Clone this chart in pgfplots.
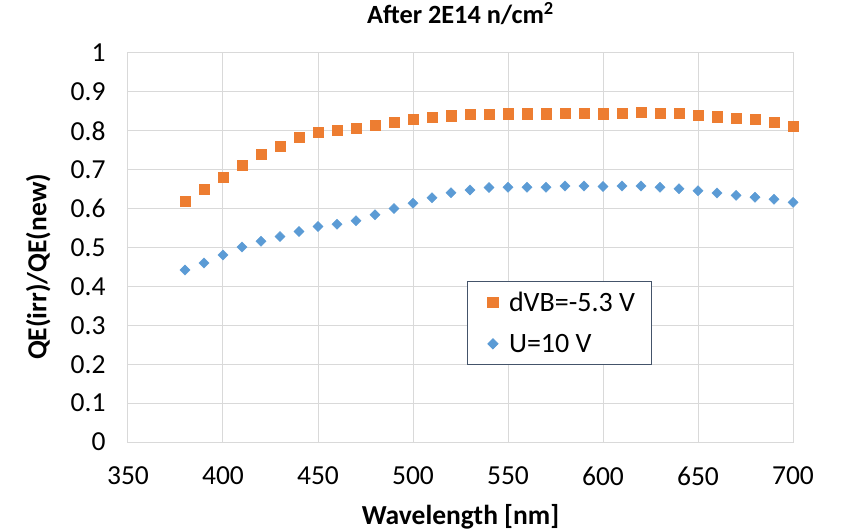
\documentclass[border=0pt]{standalone}
\usepackage{fontspec}
\setmainfont{Carlito}
\usepackage{pgfplots}
\pgfplotsset{compat=1.18}

\definecolor{xlorange}{HTML}{ED7D31}
\definecolor{xlblue}{HTML}{5B9BD5}
\definecolor{gridgray}{HTML}{D9D9D9}
\definecolor{legframe}{HTML}{44546A}

% dVB = -5.3 V
\pgfplotstableread{
wl   ratio
380  0.619
390  0.649
400  0.681
410  0.712
420  0.740
430  0.761
440  0.783
450  0.797
460  0.802
470  0.807
480  0.814
490  0.823
500  0.829
510  0.834
520  0.839
530  0.842
540  0.843
550  0.844
560  0.844
570  0.844
580  0.845
590  0.845
600  0.844
610  0.845
620  0.848
630  0.845
640  0.845
650  0.841
660  0.836
670  0.833
680  0.829
690  0.822
700  0.812
}\dvbdata

% U = 10 V
\pgfplotstableread{
wl   ratio
380  0.442
390  0.460
400  0.481
410  0.501
420  0.516
430  0.528
440  0.541
450  0.554
460  0.560
470  0.569
480  0.584
490  0.600
500  0.614
510  0.628
520  0.641
530  0.648
540  0.654
550  0.655
560  0.655
570  0.655
580  0.658
590  0.658
600  0.657
610  0.658
620  0.658
630  0.655
640  0.651
650  0.646
660  0.640
670  0.634
680  0.629
690  0.624
700  0.616
}\udata

\begin{document}
\begin{tikzpicture}
\begin{axis}[
    scale only axis,
    width=665bp, height=389bp,
    xmin=350, xmax=700, ymin=0, ymax=1,
    xtick={350,400,...,700},
    ytick={0,0.1,0.2,0.3,0.4,0.5,0.6,0.7,0.8,0.9,1},
    major tick length=0pt,
    grid=major,
    grid style={gridgray, line width=1bp},
    axis line style={gridgray, line width=1bp},
    /pgf/number format/assume math mode=true,
    ticklabel style={font=\fontsize{27.5bp}{32bp}\selectfont},
    xticklabel style={yshift=-21bp},
    yticklabel style={xshift=-19bp},
    title={After 2E14 n/cm\textsuperscript{2}},
    title style={font=\fontsize{26.3bp}{31bp}\selectfont\bfseries,
        at={(axis description cs:0.5,1.085)}, anchor=center},
    xlabel={Wavelength [nm]},
    ylabel={QE(irr)/QE(new)},
    every axis x label/.style={at={(axis description cs:0.5,-0.193)}, anchor=center,
        font=\fontsize{27.5bp}{32bp}\selectfont\bfseries},
    every axis y label/.style={at={(axis description cs:-0.135,0.45)}, rotate=90, anchor=center,
        font=\fontsize{27.5bp}{32bp}\selectfont\bfseries},
    clip=false,
    legend image code/.code={\path (-9bp,0bp); \draw[#1] plot coordinates {(0bp,0bp)};},
    legend style={at={(axis description cs:0.510,0.4147)}, anchor=north west,
        draw=legframe, line width=0.8bp,
        font=\fontsize{28bp}{33bp}\selectfont,
        inner xsep=16bp, inner ysep=11bp,
        row sep=21bp,
        nodes={inner sep=0bp},
        /tikz/every odd column/.append style={column sep=11bp}},
    legend cell align=left,
]
\addplot[only marks, color=xlorange, mark=square*, mark size=5.1bp]
    table[x=wl, y=ratio] {\dvbdata};
\addlegendentry{dVB=-5.3 V}
\addplot[only marks, color=xlblue, mark=square*, mark size=3.6bp,
    mark options={rotate=45}] table[x=wl, y=ratio] {\udata};
\addlegendentry{U=10 V}
\end{axis}
\pgfresetboundingbox
\path[use as bounding box] ([shift={(-128bp,-90bp)}]current axis.south west)
    rectangle ([shift={(48bp,53bp)}]current axis.north east);
\end{tikzpicture}
\end{document}
